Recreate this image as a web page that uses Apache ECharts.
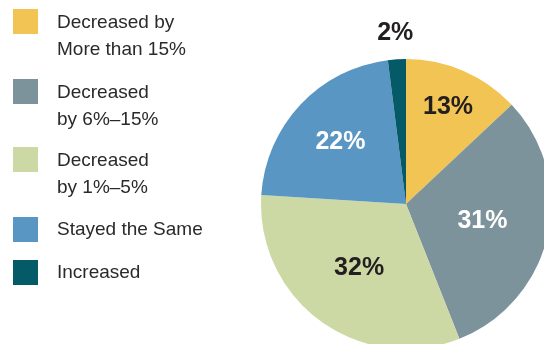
<!DOCTYPE html>
<html>
<head>
<meta charset="utf-8">
<script src="https://cdn.jsdelivr.net/npm/echarts@6/dist/echarts.min.js"></script>
<style>
  html, body { margin: 0; padding: 0; background: #fff; }
  #chart { width: 544px; height: 344px; }
</style>
</head>
<body>
<div id="chart"></div>
<script>
// Change in spending, share of respondents
const categories = [
  'Decreased by\nMore than 15%',
  'Decreased\nby 6%\u201315%',
  'Decreased\nby 1%\u20135%',
  'Stayed the Same',
  'Increased'
];
const shares = [13, 31, 32, 22, 2];
const colors = ['#F1C453', '#7D939C', '#CDD9A4', '#5A96C3', '#045B67'];
const labelColors = ['#231F20', '#FFFFFF', '#231F20', '#FFFFFF', '#231F20'];
// how far out along each slice's middle its label sits (fraction of radius)
const labelReach = [0.73, 0.54, 0.55, 0.62, 1.18];
// top edge of each legend swatch
const legendTops = [9, 79, 147, 216, 259];

const CX = 406, CY = 204, R = 145;
const SWATCH = 25, TEXT_X = 39, LINE_H = 27;
const total = shares.reduce((a, b) => a + b, 0);

function midAngle(i) {
  let before = 0;
  for (let k = 0; k < i; k++) before += shares[k];
  return (before + shares[i] / 2) / total * Math.PI * 2;
}

// Swatch pinned to the first text line: the icon box spans the whole
// label block, with the square drawn in its top-left corner.
function legendFor(name, i) {
  const lines = name.split('\n').length;
  const h = lines > 1 ? lines * LINE_H : SWATCH;
  return {
    orient: 'vertical',
    left: 13,
    top: legendTops[i],
    padding: 0,
    itemWidth: TEXT_X,
    itemHeight: h,
    symbolKeepAspect: false,
    selectedMode: false,
    icon: 'path://M0,0h' + SWATCH + 'v' + SWATCH + 'h-' + SWATCH + 'z' +
          'M' + TEXT_X + ',' + h + 'h0.001',
    data: [name],
    textStyle: {
      fontFamily: 'Liberation Sans, Arial, sans-serif',
      fontSize: 19,
      color: '#2A2A2C',
      lineHeight: LINE_H
    }
  };
}

const chart = echarts.init(document.getElementById('chart'), null, { renderer: 'canvas' });

chart.setOption({
  animation: false,
  color: colors,
  legend: categories.map(legendFor),
  series: [{
    type: 'pie',
    center: [CX, CY],
    radius: R,
    startAngle: 90,
    clockwise: true,
    silent: true,
    emphasis: { disabled: true },
    itemStyle: { borderWidth: 0 },
    label: {
      show: true,
      position: 'inside',
      formatter: '{c}%',
      fontFamily: 'Liberation Sans, Arial, sans-serif',
      fontWeight: 'bold',
      fontSize: 25
    },
    labelLine: { show: false },
    labelLayout: function (params) {
      const i = params.dataIndex;
      const a = midAngle(i);
      const r = labelReach[i] * R;
      return {
        x: CX + r * Math.sin(a),
        y: CY - r * Math.cos(a),
        align: 'center',
        verticalAlign: 'middle'
      };
    },
    data: categories.map((name, i) => ({
      name: name,
      value: shares[i],
      label: { color: labelColors[i] }
    }))
  }]
});
</script>
</body>
</html>
